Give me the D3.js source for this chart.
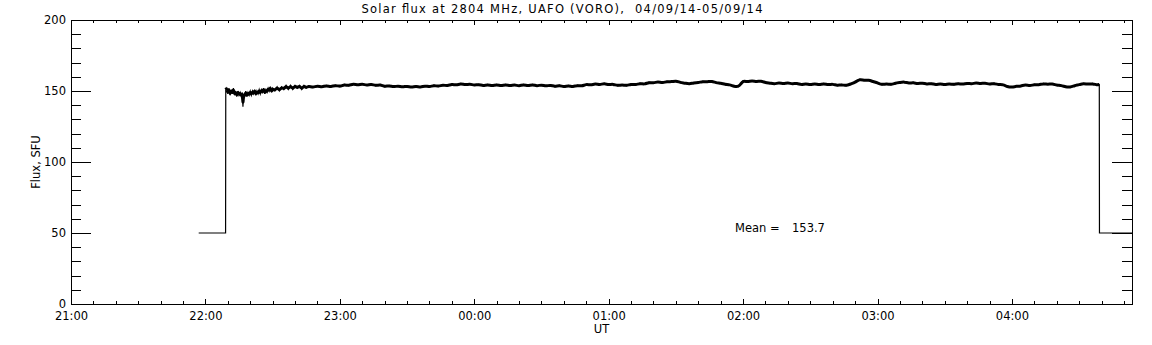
<!DOCTYPE html>
<html>
<head>
<meta charset="utf-8">
<script src="https://cdn.jsdelivr.net/npm/d3@7"></script>
<style>
  html, body { margin: 0; padding: 0; background: #fff; }
  svg { display: block; }
  text { font-family: "DejaVu Sans", "Liberation Sans", sans-serif; fill: #000; }
</style>
</head>
<body>
<svg id="chart" width="1152" height="345"></svg>
<script>
// ---------------- DATA ----------------
const titleText = "Solar flux at 2804 MHz, UAFO (VORO),  04/09/14-05/09/14";
const xLabel = "UT";
const yLabel = "Flux, SFU";
const meanLabel = "Mean =";
const meanValue = "153.7";
const baseDay = "2014-09-04";
const xDomainTimes = ["21:00", "04:53:36"];
const yDomain = [0, 200];
const yMajorTicks = [0, 50, 100, 150, 200];
const yMinorStep = 10;

const fluxTimes = [
 "21:57","22:09","22:09:05",
 "22:09:30","22:10:00","22:10:30","22:11:00","22:11:30","22:12:00","22:12:30","22:13:00","22:13:30","22:14:00",
 "22:14:30","22:15:00","22:15:30","22:16:00","22:16:30","22:16:45","22:17:00","22:17:30","22:18:00","22:18:30",
 "22:19:00","22:19:30","22:20:00","22:20:30","22:21:00","22:21:30","22:22:00","22:22:30","22:23:00","22:23:30",
 "22:24:00","22:24:30","22:25:00","22:25:30","22:26:00","22:26:30","22:27:00","22:27:30","22:28:00","22:28:30",
 "22:29:00","22:29:30","22:30:00","22:31:00","22:32:00","22:33:00","22:34:00","22:35:00","22:36:00","22:37:00",
 "22:38:00","22:39:00","22:40:00","22:41:00","22:42:00","22:43:00","22:44:00","22:45:00",
 "22:46","22:48","22:50","22:52","22:54","22:56","22:58","23:00","23:02","23:04","23:06","23:08","23:10","23:12",
 "23:14","23:16","23:18","23:20","23:22","23:24","23:26","23:28","23:30","23:32","23:34","23:36","23:38","23:40",
 "23:42","23:44","23:46","23:48","23:50","23:52","23:54","23:56","23:58","00:00","00:02","00:04","00:06","00:08",
 "00:10","00:12","00:14","00:16","00:18","00:20","00:22","00:24","00:26","00:28","00:30","00:32","00:34","00:36",
 "00:38","00:40","00:42","00:44","00:46","00:48","00:50","00:52","00:54","00:56","00:58","01:00","01:02","01:04",
 "01:06","01:08","01:10","01:12","01:14","01:16","01:18","01:20","01:22","01:24","01:26","01:28","01:30","01:32",
 "01:34","01:36","01:38","01:40","01:42","01:44","01:46","01:48","01:50","01:52","01:54","01:56","01:58","01:59",
 "02:00","02:02","02:04","02:06","02:08","02:10","02:12","02:14","02:16","02:18","02:20","02:22","02:24","02:26",
 "02:28","02:30","02:32","02:34","02:36","02:38","02:40","02:42","02:44","02:46","02:48","02:50","02:52","02:54",
 "02:56","02:58","03:00","03:02","03:04","03:06","03:08","03:10","03:12","03:14","03:16","03:18","03:20","03:22",
 "03:24","03:26","03:28","03:30","03:32","03:34","03:36","03:38","03:40","03:42","03:44","03:46","03:48","03:50",
 "03:52","03:54","03:56","03:58","04:00","04:02","04:04","04:06","04:08","04:10","04:12","04:14","04:16","04:18",
 "04:20","04:22","04:24","04:26","04:28","04:30","04:32","04:34","04:36","04:38","04:39","04:39:05","04:53:36"
];
const fluxValues = [
 50,50,151,
 152,148,152,147,151,148,152,147,150,146,
 150,147,149,146,149,139,148,146,150,146,
 149,147,150,147,150,148,151,147,150,148,
 151,148,151,149,152,148,151,149,152,150,
 153,149,152,150,153,150,153,151,154,151,
 154,151,154,152,154,151,154,152,
 153.6,152.4,153.8,152.6,154.0,152.8,154.2,153.0,154.6,153.6,155.2,154.0,155.1,153.9,
 155.0,153.6,154.6,153.0,153.9,152.8,153.7,152.6,153.6,152.5,153.6,152.5,153.8,152.8,
 154.1,153.1,154.4,153.5,154.9,154.0,155.3,154.2,155.0,154.0,154.7,153.6,154.6,153.5,
 154.6,153.4,154.6,153.5,154.5,153.4,154.6,153.5,154.6,153.4,154.5,153.3,154.3,153.0,
 154.1,152.8,153.9,152.8,154.1,153.3,154.9,154.0,155.2,154.3,155.4,154.3,155.0,153.6,
 154.5,153.6,155.0,154.2,155.5,154.6,156.2,155.6,156.6,155.6,156.8,156.4,157.3,155.9,
 155.6,154.8,155.9,155.8,156.8,156.4,157.1,155.7,155.6,154.6,154.5,153.2,153.0,155.0,
 157.2,156.4,157.3,156.5,157.2,155.8,155.6,154.9,155.9,155.0,155.9,154.9,155.6,154.3,
 155.2,154.2,155.2,154.2,155.3,154.2,155.0,153.8,154.6,153.6,155.0,156.0,158.4,157.4,
 157.8,156.6,155.8,154.3,155.2,154.4,155.6,156.0,156.5,155.4,156.0,155.0,155.8,154.7,
 155.4,154.3,155.2,154.3,155.2,154.4,155.4,154.6,155.6,154.9,155.9,155.0,155.8,154.6,
 155.5,154.4,154.6,153.0,152.6,153.4,153.4,154.5,153.6,154.6,154.2,155.3,154.6,155.2,
 154.0,154.0,152.8,152.6,153.8,154.4,155.4,154.6,155.3,154.2,154.6,50,50
];

// ---------------- LAYOUT ----------------
const plot = { left: 71, right: 1132, top: 20, bottom: 304 };

function parseT(s) {
  const p = s.split(":").map(Number);
  const d = new Date(baseDay + "T00:00:00Z");
  d.setUTCHours(p[0], p[1], p[2] || 0);
  if (p[0] < 12) d.setUTCDate(d.getUTCDate() + 1);
  return d;
}

const data = fluxTimes.map((t, i) => ({ t: parseT(t), v: fluxValues[i] }));
const plateau = data.filter(d => d.v > 100);

const x = d3.scaleUtc().domain(xDomainTimes.map(parseT)).range([plot.left, plot.right]);
const y = d3.scaleLinear().domain(yDomain).range([plot.bottom, plot.top]);

const svg = d3.select("#chart");
const fmt = d3.utcFormat("%H:%M");

const majorX = x.ticks(d3.utcHour.every(1));
const minorX = x.ticks(d3.utcMinute.every(10));
const minorY = d3.range(yDomain[0], yDomain[1] + 0.001, yMinorStep);

const bottomAxisMinor = d3.axisBottom(x).tickValues(minorX).tickSize(-3).tickFormat("");
const bottomAxisMajor = d3.axisBottom(x).tickValues(majorX).tickSize(-5).tickFormat(fmt);
const topAxisMinor = d3.axisTop(x).tickValues(minorX).tickSize(-3).tickFormat("");
const topAxisMajor = d3.axisTop(x).tickValues(majorX).tickSize(-5).tickFormat("");
const leftMinor = d3.axisLeft(y).tickValues(minorY).tickSize(-10).tickFormat("");
const leftMajor = d3.axisLeft(y).tickValues(yMajorTicks).tickSize(-20).tickFormat(d3.format("d"));
const rightMinor = d3.axisRight(y).tickValues(minorY).tickSize(-10).tickFormat("");
const rightMajor = d3.axisRight(y).tickValues(yMajorTicks).tickSize(-20).tickFormat("");

function addAxis(axis, tx, ty) {
  const g = svg.append("g").attr("transform", `translate(${tx},${ty})`).call(axis);
  g.select(".domain").remove();
  g.selectAll("line").attr("stroke", "#000").attr("stroke-width", 1).attr("shape-rendering", "crispEdges");
  g.selectAll("text").attr("font-size", 11.5).attr("fill", "#000")
    .style("font-family", '"DejaVu Sans", sans-serif');
  return g;
}
addAxis(bottomAxisMinor, 0, plot.bottom);
const bx = addAxis(bottomAxisMajor, 0, plot.bottom);
addAxis(topAxisMinor, 0, plot.top);
addAxis(topAxisMajor, 0, plot.top);
addAxis(leftMinor, plot.left, 0);
const ly = addAxis(leftMajor, plot.left, 0);
addAxis(rightMinor, plot.right, 0);
addAxis(rightMajor, plot.right, 0);

bx.selectAll("text").attr("y", 16).attr("dy", 0);
ly.selectAll("text").attr("x", -5).attr("dy", "0.32em");

// Frame
svg.append("rect")
  .attr("x", plot.left).attr("y", plot.top)
  .attr("width", plot.right - plot.left).attr("height", plot.bottom - plot.top)
  .attr("fill", "none").attr("stroke", "#000").attr("stroke-width", 1)
  .attr("shape-rendering", "crispEdges");

// Data: thin trace of every sample
svg.append("path")
  .datum(data)
  .attr("d", d3.line().x(d => x(d.t)).y(d => y(d.v)))
  .attr("fill", "none")
  .attr("stroke", "#000")
  .attr("stroke-width", 1.2);

// Data: noise band on the plateau
svg.append("path")
  .datum(plateau)
  .attr("d", d3.line().curve(d3.curveBasis).x(d => x(d.t)).y(d => y(d.v)))
  .attr("fill", "none")
  .attr("stroke", "#000")
  .attr("stroke-width", 3);

// Title
svg.append("text")
  .attr("x", 562).attr("y", 13)
  .attr("text-anchor", "middle")
  .attr("font-size", 11.5)
  .attr("textLength", 401).attr("lengthAdjust", "spacing")
  .style("white-space", "pre")
  .text(titleText);

svg.append("text")
  .attr("x", (plot.left + plot.right) / 2).attr("y", 333)
  .attr("text-anchor", "middle").attr("font-size", 11.5)
  .text(xLabel);

svg.append("text")
  .attr("transform", `translate(40,${(plot.top + plot.bottom) / 2}) rotate(-90)`)
  .attr("text-anchor", "middle").attr("font-size", 11.5)
  .text(yLabel);

svg.append("text").attr("x", 735).attr("y", 232).attr("font-size", 11.5).text(meanLabel);
svg.append("text").attr("x", 792).attr("y", 232).attr("font-size", 11.5).text(meanValue);
</script>
</body>
</html>
